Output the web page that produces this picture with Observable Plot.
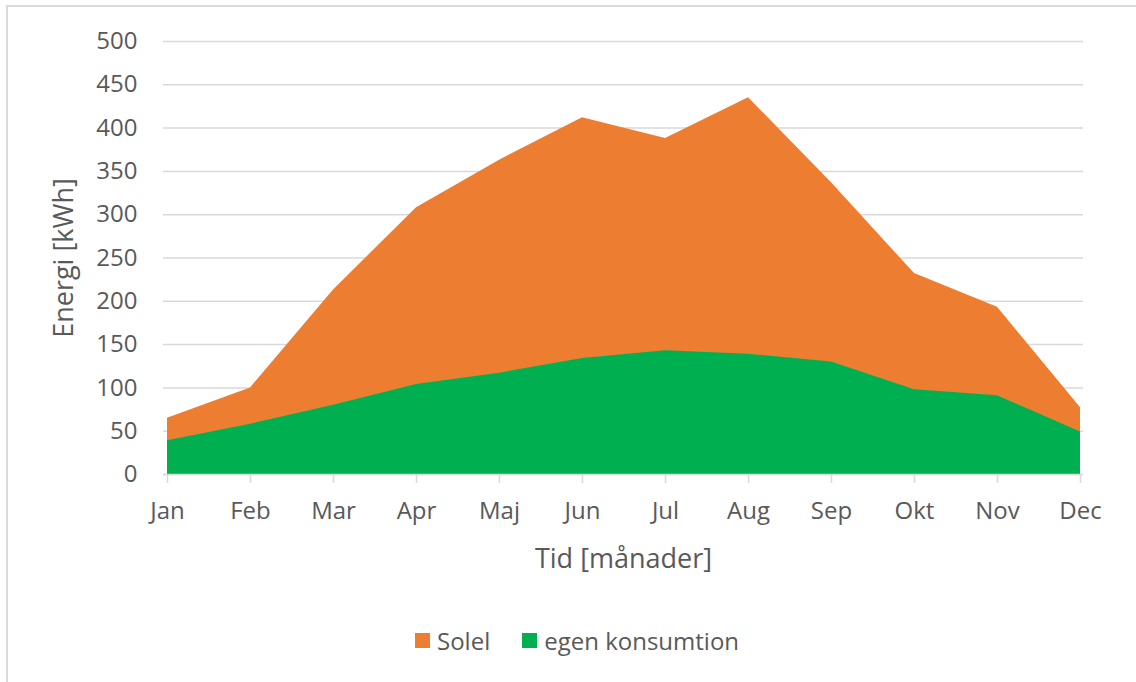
<!DOCTYPE html>
<html>
<head>
<meta charset="utf-8">
<script src="https://cdn.jsdelivr.net/npm/d3@7"></script>
<script src="https://cdn.jsdelivr.net/npm/@observablehq/plot@0.6"></script>
<style>
  html, body { margin: 0; padding: 0; background: #fff; }
  #wrap { position: relative; width: 1136px; height: 682px; overflow: hidden; font-family: "Open Sans", sans-serif; color: #595959; }
  #frame { position: absolute; left: 6px; top: 5px; right: -10px; bottom: -10px; border-top: 2px solid #d9d9d9; border-left: 2px solid #d9d9d9; pointer-events: none; }
  #chart { position: absolute; left: 0; top: 0; }
  #legend { position: absolute; left: 415px; top: 624px; display: flex; align-items: center; font-size: 24px; color: #595959; }
  .item { display: flex; align-items: center; }
  .sw { width: 15px; height: 15px; margin-right: 7px; }
</style>
</head>
<body>
<div id="wrap">
  <div id="chart"></div>
  <div id="legend"></div>
  <div id="frame"></div>
</div>
<script>
const months = ["Jan","Feb","Mar","Apr","Maj","Jun","Jul","Aug","Sep","Okt","Nov","Dec"];
const solel = [65, 100, 213, 308, 363, 412, 388, 435, 337, 232, 193, 77];
const egenKonsumtion = [39, 58, 80, 104, 117, 134, 143, 139, 130, 98, 91, 49];
const yTicks = [0, 50, 100, 150, 200, 250, 300, 350, 400, 450, 500];
const seriesNames = ["Solel", "egen konsumtion"];
const seriesColors = ["#ED7D31", "#00B050"];
const yTitle = "Energi [kWh]";
const xTitle = "Tid [månader]";

const data = months.map((m, i) => ({month: m, solel: solel[i], egen: egenKonsumtion[i]}));

const chart = Plot.plot({
  width: 1136,
  height: 600,
  marginTop: 41,
  marginBottom: 126,
  marginLeft: 163,
  marginRight: 53,
  style: {fontFamily: "Open Sans, sans-serif", fontSize: "24px", color: "#595959", background: "transparent"},
  x: {type: "point", domain: months, padding: 0},
  y: {domain: [0, 500]},
  marks: [
    Plot.gridY(yTicks, {stroke: "#d9d9d9", strokeOpacity: 1, strokeWidth: 1.5}),
    Plot.areaY(data, {x: "month", y: "solel", fill: seriesColors[0]}),
    Plot.areaY(data, {x: "month", y: "egen", fill: seriesColors[1]}),
    Plot.ruleY([0], {stroke: "#d9d9d9", strokeWidth: 1.5}),
    Plot.axisY(yTicks, {tickSize: 0, tickPadding: 26, fontSize: 24, fill: "#595959", label: null}),
    Plot.axisX({tickSize: 9, tickPadding: 18, stroke: "#d9d9d9", strokeWidth: 1.5, fontSize: 24, fill: "#595959", label: null}),
    Plot.text([yTitle], {frameAnchor: "left", rotate: -90, dx: -99, textAnchor: "middle", lineAnchor: "middle", fontSize: 27, fill: "#595959"}),
    Plot.text([xTitle], {frameAnchor: "bottom", dy: 85, textAnchor: "middle", lineAnchor: "middle", fontSize: 27, fill: "#595959"})
  ]
});
document.getElementById("chart").appendChild(chart);

const legend = document.getElementById("legend");
seriesNames.forEach((name, i) => {
  const it = document.createElement("div");
  it.className = "item";
  if (i > 0) it.style.marginLeft = "32px";
  const sw = document.createElement("div");
  sw.className = "sw";
  sw.style.background = seriesColors[i];
  const tx = document.createElement("span");
  tx.textContent = name;
  it.appendChild(sw);
  it.appendChild(tx);
  legend.appendChild(it);
});
</script>
</body>
</html>
